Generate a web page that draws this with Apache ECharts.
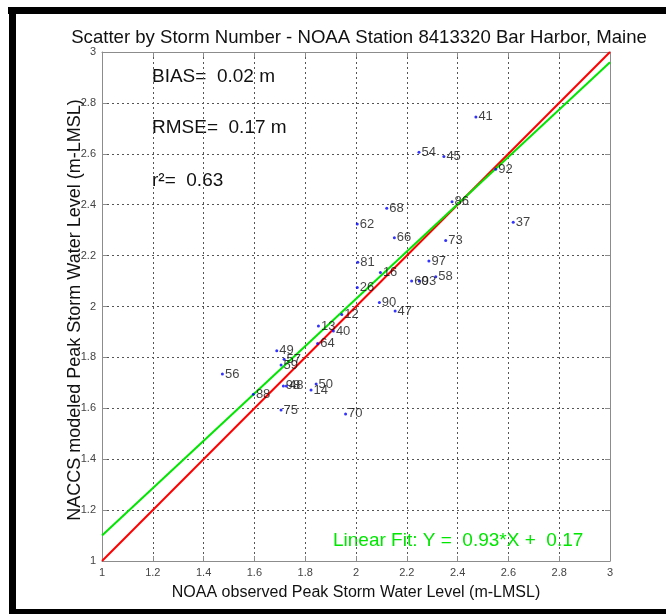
<!DOCTYPE html>
<html>
<head>
<meta charset="utf-8">
<script src="https://cdn.jsdelivr.net/npm/echarts@6/dist/echarts.min.js"></script>
<style>
html, body { margin: 0; padding: 0; background: #fff; }
#chart { width: 666px; height: 614px; }
</style>
</head>
<body>
<div id="chart"></div>
<script>
// Storm numbers with observed (NOAA) and modeled (NACCS) peak water levels, m-LMSL
const storms   = ['41','54','45','92','68','86','62','37','66','73','81','97','16','60','93','58','26','90','47','12','13','40','64','49','57','59','56','98','48','50','14','88','75','70'];
const observed = [2.472,2.248,2.346,2.550,2.121,2.378,2.005,2.619,2.151,2.353,2.007,2.287,2.096,2.219,2.249,2.314,2.005,2.092,2.154,1.944,1.852,1.911,1.849,1.688,1.717,1.705,1.474,1.714,1.726,1.843,1.823,1.596,1.705,1.959];
const modeled  = [2.745,2.606,2.589,2.539,2.386,2.412,2.324,2.331,2.270,2.259,2.174,2.179,2.134,2.100,2.100,2.117,2.075,2.016,1.982,1.969,1.923,1.904,1.855,1.826,1.793,1.770,1.735,1.688,1.688,1.695,1.672,1.655,1.593,1.578];

// Summary statistics and linear fit
const bias = 0.02;
const rmse = 0.17;
const r2 = 0.63;
const fitSlope = 0.93;
const fitIntercept = 0.17;

const axisMin = 1, axisMax = 3, axisStep = 0.2;

const points = storms.map((s, i) => [observed[i], modeled[i], s]);
const oneToOne = [[axisMin, axisMin], [axisMax, axisMax]];
const fitLine = [axisMin, axisMax].map(x => [x, fitSlope * x + fitIntercept]);

const FONT = 'Liberation Sans, Arial, sans-serif';

const chart = echarts.init(document.getElementById('chart'), null, { renderer: 'canvas' });

const baseAxis = {
  type: 'value',
  min: axisMin,
  max: axisMax,
  interval: axisStep,
  axisLine: { show: true, lineStyle: { color: '#8c8c8c', width: 1 } },
  axisTick: { show: true, inside: true, length: 5, lineStyle: { color: '#8c8c8c' } },
  axisLabel: {
    color: '#444', fontFamily: FONT, fontSize: 11, margin: 6,
    formatter: v => String(Math.round(v * 10) / 10)
  },
  splitLine: { show: true, lineStyle: { color: '#555', type: [2, 3], width: 1 } }
};

chart.setOption({
  backgroundColor: '#fff',
  animation: false,
  title: {
    text: 'Scatter by Storm Number - NOAA Station 8413320 Bar Harbor, Maine',
    left: 354, top: 23, textAlign: 'center',
    textStyle: { fontFamily: FONT, fontSize: 18.6, fontWeight: 'normal', color: '#111' }
  },
  grid: { left: 102, right: 56, top: 52, bottom: 53, show: false },
  xAxis: [
    Object.assign({}, baseAxis, {
      position: 'bottom',
      name: 'NOAA observed Peak Storm Water Level (m-LMSL)',
      nameLocation: 'middle', nameGap: 24,
      nameTextStyle: { fontFamily: FONT, fontSize: 16, color: '#111' }
    }),
    Object.assign({}, baseAxis, {
      position: 'top',
      axisLabel: { show: false },
      splitLine: { show: false }
    })
  ],
  yAxis: [
    Object.assign({}, baseAxis, { position: 'left' }),
    Object.assign({}, baseAxis, {
      position: 'right',
      axisLabel: { show: false },
      splitLine: { show: false }
    })
  ],
  series: [
    {
      type: 'line',
      data: oneToOne,
      showSymbol: false,
      lineStyle: { color: '#ff0000', width: 2 },
      z: 3
    },
    {
      type: 'line',
      data: fitLine,
      showSymbol: false,
      lineStyle: { color: '#00e600', width: 2 },
      z: 4
    },
    {
      type: 'scatter',
      data: points,
      symbol: 'circle',
      symbolSize: 3,
      itemStyle: { color: '#0000ff' },
      label: {
        show: true,
        position: 'right',
        distance: 1,
        formatter: p => p.data[2],
        fontFamily: FONT,
        fontSize: 13,
        color: '#111'
      },
      z: 5
    }
  ],
  graphic: [
    // page frame
    { type: 'rect', shape: { x: 8, y: 7, width: 658, height: 7 }, style: { fill: '#000' } },
    { type: 'rect', shape: { x: 9, y: 7, width: 7, height: 607 }, style: { fill: '#000' } },
    { type: 'rect', shape: { x: 9, y: 609, width: 657, height: 5 }, style: { fill: '#000' } },
    // vertical axis title
    {
      type: 'text', x: 75, y: 310, rotation: Math.PI / 2,
      style: { text: 'NACCS modeled Peak Storm Water Level (m-LMSL)', font: '18px ' + FONT, fill: '#111', align: 'center', verticalAlign: 'middle' }
    },
    // statistics
    { type: 'text', x: 152, y: 77, style: { text: 'BIAS=  ' + bias.toFixed(2) + ' m', font: '19px ' + FONT, fill: '#111', verticalAlign: 'middle' } },
    { type: 'text', x: 152, y: 128, style: { text: 'RMSE=  ' + rmse.toFixed(2) + ' m', font: '19px ' + FONT, fill: '#111', verticalAlign: 'middle' } },
    { type: 'text', x: 152, y: 181, style: { text: 'r\u00b2=  ' + r2.toFixed(2), font: '19px ' + FONT, fill: '#111', verticalAlign: 'middle' } },
    { type: 'text', x: 333, y: 541, style: { text: 'Linear Fit: Y =  ' + fitSlope.toFixed(2) + '*X +  ' + fitIntercept.toFixed(2), font: '19px ' + FONT, fill: '#00e600', verticalAlign: 'middle' } }
  ]
});
</script>
</body>
</html>
